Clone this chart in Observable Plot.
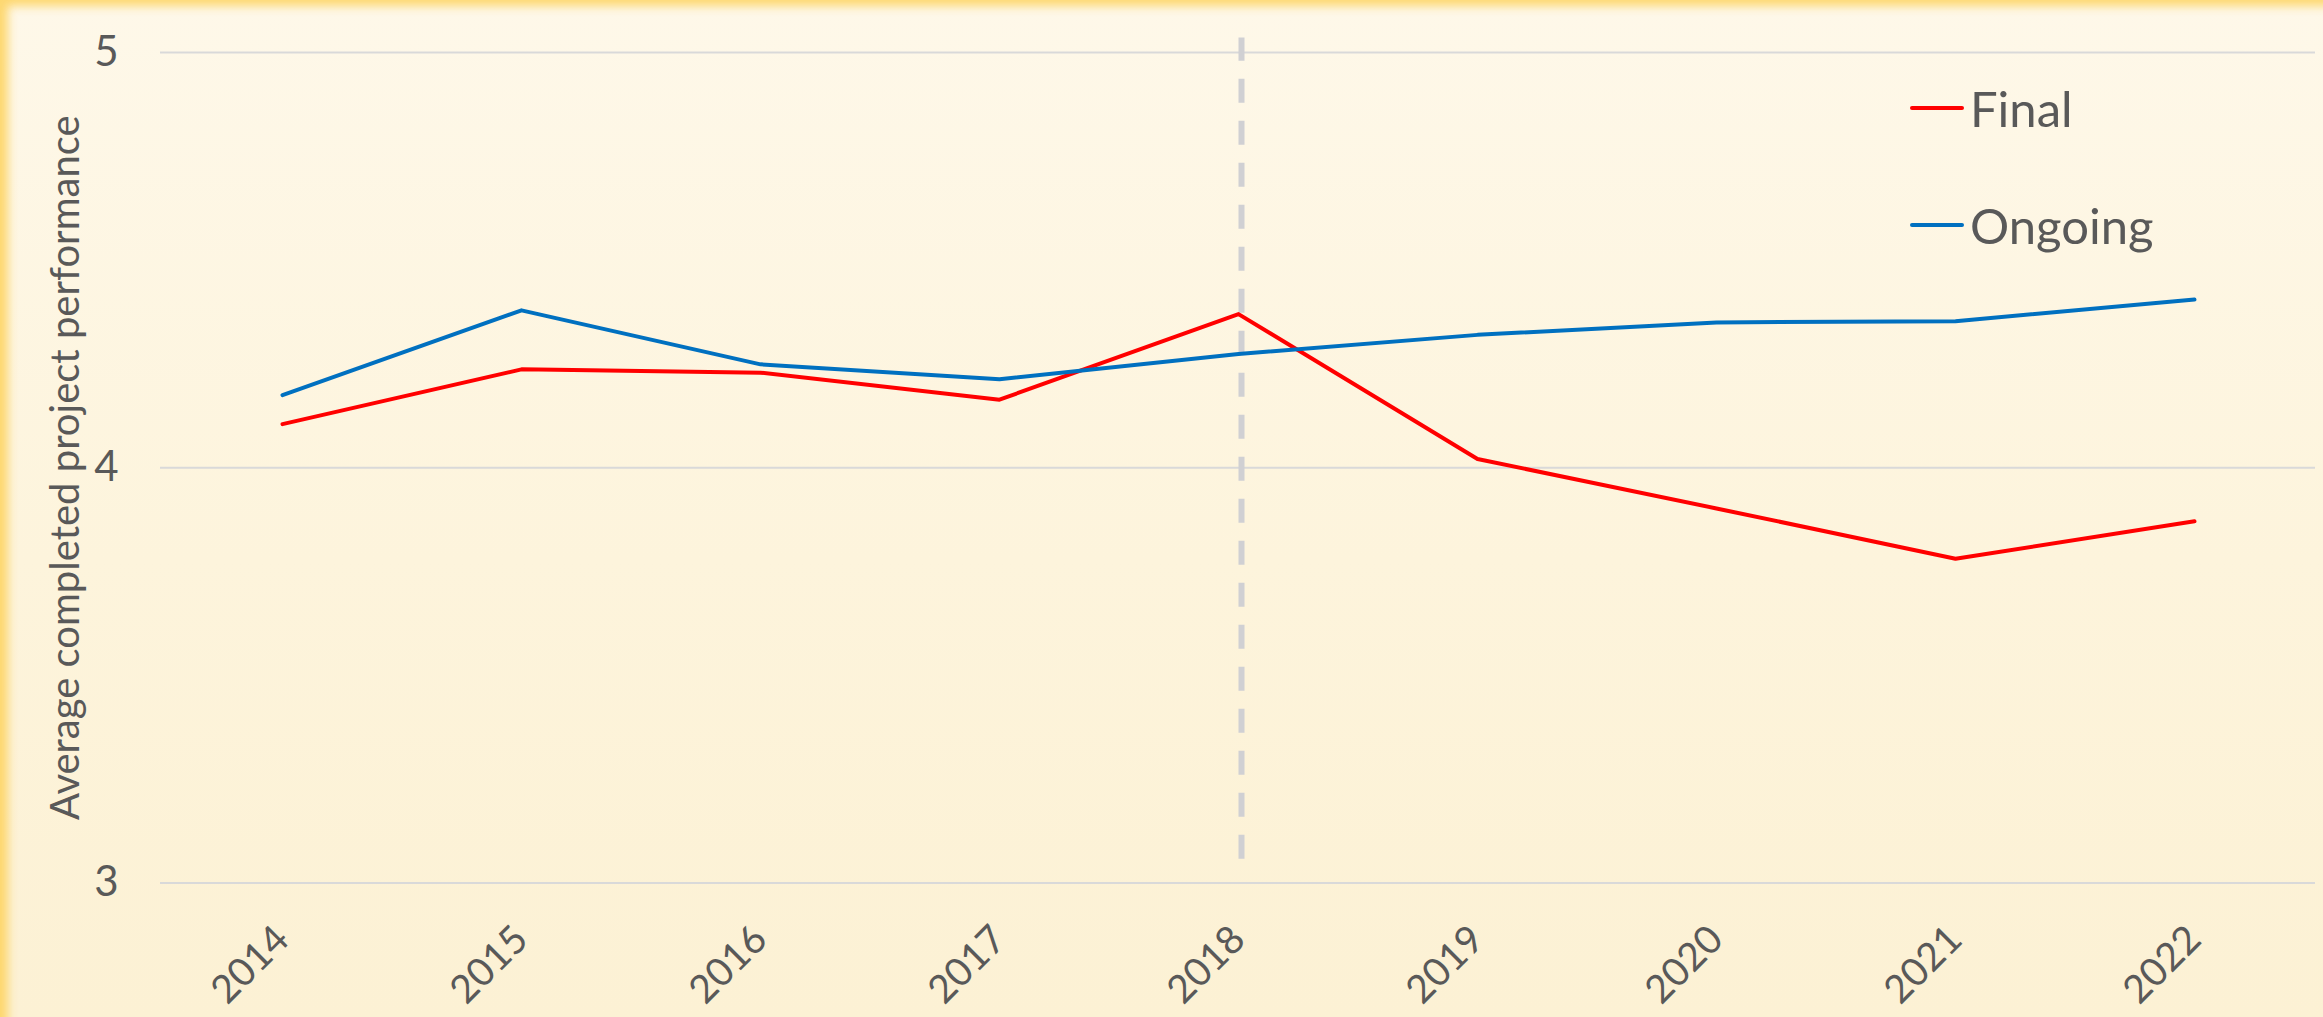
<!DOCTYPE html>
<html>
<head>
<meta charset="utf-8">
<script src="https://cdn.jsdelivr.net/npm/d3@7"></script>
<script src="https://cdn.jsdelivr.net/npm/@observablehq/plot@0.6"></script>
<style>
  html, body { margin: 0; padding: 0; background: #fdf5de; }
  #wrap {
    position: relative; width: 2323px; height: 1017px; overflow: hidden;
    background: linear-gradient(to bottom, #fef8e9 0%, #fdf4dc 55%, #fcf1d4 100%);
    box-shadow: inset 12px 10px 10px -4px rgba(253, 212, 100, 0.9);
    font-family: Lato, "Open Sans", sans-serif;
  }
  #wrap svg { position: absolute; left: 0; top: 0; }
  .legend-item { position: absolute; display: flex; align-items: center; height: 60px; color: #595959; font-size: 49px; }
  .legend-item .sw { width: 54px; height: 4px; border-radius: 2px; margin-right: 6px; }
</style>
</head>
<body>
<div id="wrap"></div>
<script>
// ---- data ----
const years = ["2014", "2015", "2016", "2017", "2018", "2019", "2020", "2021", "2022"];
const finalValues   = [4.105, 4.237, 4.229, 4.164, 4.370, 4.021, 3.902, 3.781, 3.871];
const ongoingValues = [4.175, 4.379, 4.249, 4.213, 4.274, 4.320, 4.350, 4.353, 4.405];
const seriesNames = ["Final", "Ongoing"];
const seriesColors = ["#ff0000", "#0070c0"];
const yTicks = [3, 4, 5];
const yLabel = "Average completed project performance";
const markerYear = "2018";
const markerFrom = 3.057;
const markerTo = 5.035;

const rows = years.flatMap((yr, i) => [
  {year: yr, value: finalValues[i], series: seriesNames[0]},
  {year: yr, value: ongoingValues[i], series: seriesNames[1]}
]);
const marker = [{year: markerYear, from: markerFrom, to: markerTo}];

const chart = Plot.plot({
  width: 2323,
  height: 1017,
  marginLeft: 160,
  marginRight: 8,
  marginTop: 52,
  marginBottom: 134.5,
  style: {background: "transparent", fontFamily: "Lato, 'Open Sans', sans-serif", color: "#595959", overflow: "visible"},
  x: {type: "point", domain: years, padding: 0.5},
  y: {domain: [3, 5]},
  color: {domain: seriesNames, range: seriesColors},
  marks: [
    Plot.gridY(yTicks, {stroke: "#d9d9d9", strokeOpacity: 1, strokeWidth: 2}),
    Plot.ruleX(marker, {x: "year", y1: "from", y2: "to", stroke: "#d0d0d3", strokeWidth: 6, strokeDasharray: "24,18", dx: 3}),
    Plot.axisY(yTicks, {tickSize: 0, tickPadding: 42, fontSize: 42, tickFormat: d => String(d),
      label: yLabel, labelAnchor: "center", labelOffset: 110, labelArrow: false}),
    Plot.axisX({tickSize: 0, tickRotate: -45, tickPadding: 50, fontSize: 39, label: null}),
    Plot.line(rows, {x: "year", y: "value", z: "series", stroke: "series", strokeWidth: 4,
      strokeLinecap: "round", strokeLinejoin: "round"})
  ]
});

// slightly larger axis title than tick labels
chart.querySelectorAll("g[aria-label='y-axis label'] text").forEach(t => t.setAttribute("font-size", 40));

const wrap = document.getElementById("wrap");
wrap.appendChild(chart);

// legend (inside plot area, top right)
const legendTops = [78, 195];
seriesNames.forEach((name, i) => {
  const item = document.createElement("div");
  item.className = "legend-item";
  item.style.left = "1910px";
  item.style.top = legendTops[i] + "px";
  const sw = document.createElement("span");
  sw.className = "sw";
  sw.style.background = seriesColors[i];
  const tx = document.createElement("span");
  tx.textContent = name;
  item.appendChild(sw);
  item.appendChild(tx);
  wrap.appendChild(item);
});
</script>
</body>
</html>
